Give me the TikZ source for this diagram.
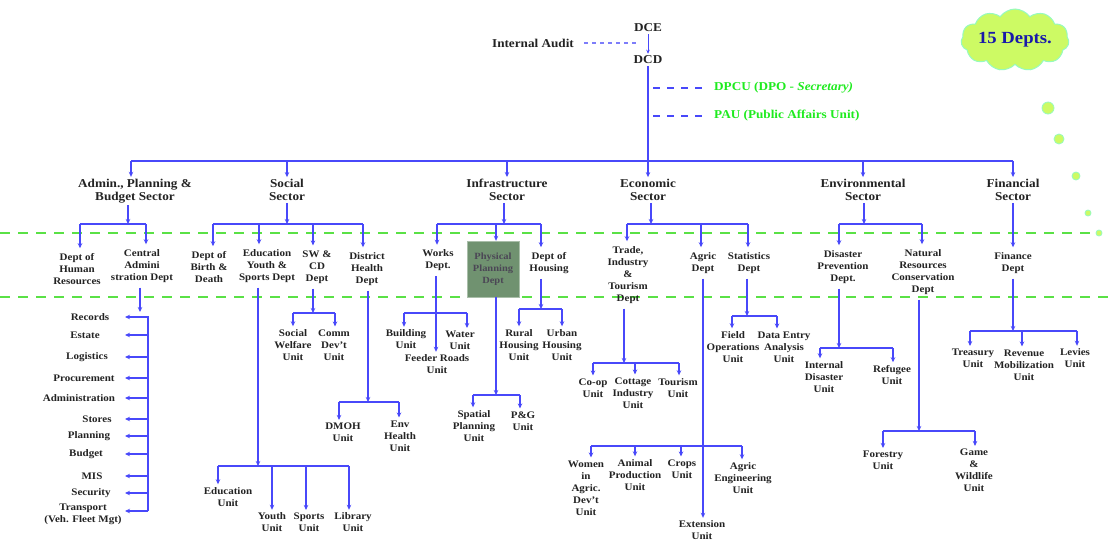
\documentclass[tikz,border=0pt]{standalone}
\usepackage{fontspec}
\setmainfont[FakeStretch=1.1]{Liberation Serif}
\usetikzlibrary{arrows.meta,shapes.symbols}
\definecolor{cline}{RGB}{72,72,250}
\definecolor{cdash}{RGB}{125,125,250}
\definecolor{cgreen}{RGB}{90,225,70}
\definecolor{ctext}{RGB}{35,35,35}
\definecolor{cgtext}{RGB}{30,235,30}
\definecolor{cppd}{RGB}{112,146,112}
\definecolor{cppt}{RGB}{75,70,85}
\definecolor{cdot}{RGB}{205,250,100}
\definecolor{cdotb}{RGB}{150,250,190}
\definecolor{cnavy}{RGB}{25,25,170}
\begin{document}
\begin{tikzpicture}[x=1pt,y=-1pt,
 lnk/.style={draw=cline,line width=1.3pt},
 arr/.style={lnk,-{Stealth[length=5pt,width=4.5pt]}},
 sec/.style={font=\fontsize{12}{13}\selectfont\bfseries,text=ctext,align=center,inner xsep=1pt,inner ysep=2pt},
 dept/.style={font=\fontsize{10}{12}\selectfont\bfseries,text=ctext,align=center,inner xsep=1pt,inner ysep=5pt},
 unit/.style={font=\fontsize{10}{12}\selectfont\bfseries,text=ctext,align=center,inner xsep=1pt,inner ysep=3pt},
 gdash/.style={draw=cgreen,line width=1.6pt,dash pattern=on 10pt off 8pt},
 bdash/.style={draw=cline,line width=1.3pt,dash pattern=on 7pt off 7pt},
 idash/.style={draw=cdash,line width=1.1pt,dash pattern=on 4pt off 4pt},
 dot/.style={circle,fill=cdot,draw=cdotb,line width=0.8pt,inner sep=0pt}]
\useasboundingbox (0,0) rectangle (1118,542);
\fill[white] (0,0) rectangle (1118,542);

% green dashed separators
\draw[gdash] (0,233) -- (1100,233);
\draw[gdash] (0,297) -- (1112,297);

% cloud and dots
\node[cloud,cloud puffs=11,cloud puff arc=110,aspect=1.7,fill=cdot,draw=cdotb,line width=1pt,
  minimum width=108pt,minimum height=62pt,inner sep=0pt] (cl) at (1015,40) {};
\node[font=\fontsize{17}{18}\selectfont\bfseries,text=cnavy,inner sep=0pt] (cltx) at (cl.center) {15 Depts.};
\node[dot,minimum size=12pt] (d1) at (1048,108) {};
\node[dot,minimum size=10pt] (d2) at (1059,139) {};
\node[dot,minimum size=8pt] (d3) at (1076,176) {};
\node[dot,minimum size=6pt] (d4) at (1088,213) {};
\node[dot,minimum size=6pt] (d5) at (1099,233) {};

% top
\node[sec] (dce) at (648,28) {DCE};
\node[sec] (dcd) at (648,60) {DCD};
\node[sec] (ia) at (533,43) {Internal Audit};
\node[sec,anchor=west,text=cgtext] (dpcu) at (713,88) {DPCU (DPO - \textit{Secretary)}};
\node[sec,anchor=west,text=cgtext] (pau) at (713,116) {PAU (Public Affairs Unit)};
\draw[lnk,line width=1pt,-{Stealth[length=4pt,width=3.5pt]}] (dce) -- (dcd);
\draw[idash,shorten <=9pt,shorten >=10pt] (ia.east) -- (ia.east -| dce.south);
\draw[bdash,shorten <=5pt,shorten >=10pt] (dpcu.west -| dcd.south) -- (dpcu.west);
\draw[bdash,shorten <=5pt,shorten >=10pt] (pau.west -| dcd.south) -- (pau.west);

% sectors
\node[sec] (sAdm) at (135,191) {Admin., Planning \&\\Budget Sector};
\node[sec] (sSoc) at (287,190) {Social\\Sector};
\node[sec] (sInf) at (507,190) {Infrastructure\\Sector};
\node[sec] (sEco) at (648,190) {Economic\\Sector};
\node[sec] (sEnv) at (863,190) {Environmental\\Sector};
\node[sec] (sFin) at (1013,190) {Financial\\Sector};
\coordinate (hub) at (648,161);
\draw[lnk] (131,0 |- hub) -- (sFin.north |- hub);
\draw[arr] (dcd.south) -- (sEco.north);
\draw[arr] (131,0 |- hub) -- (131,0 |- sAdm.north);
\draw[arr] (sSoc.north |- hub) -- (sSoc.north);
\draw[arr] (sInf.north |- hub) -- (sInf.north);
\draw[arr] (sEnv.north |- hub) -- (sEnv.north);
\draw[arr] (sFin.north |- hub) -- (sFin.north);

% departments
\node[dept] (dHR) at (77,269) {Dept of\\Human\\Resources};
\node[dept] (dCA) at (142,266) {Central\\Admini\\stration Dept};
\node[dept] (dBD) at (209,267) {Dept of\\Birth \&\\Death};
\node[dept] (dEYS) at (267,266) {Education\\Youth \&\\Sports Dept};
\node[dept] (dSW) at (317,267) {SW \&\\CD\\Dept};
\node[dept] (dDH) at (367,269) {District\\Health\\Dept};
\node[dept] (dWk) at (438,260.5) {Works\\Dept.};
\node[draw=cppd!60!white,fill=cppd,minimum width=52pt,minimum height=56pt,inner sep=1pt,
  font=\fontsize{9.5}{12}\selectfont\bfseries,text=cppt,align=center] (dPP) at (493,269) {Physical\\Planning\\Dept};
\node[dept] (dHo) at (549,263) {Dept of\\Housing};
\node[dept] (dTr) at (628,275) {Trade,\\Industry\\\&\\Tourism\\Dept};
\node[dept] (dAg) at (703,263) {Agric\\Dept};
\node[dept] (dSt) at (749,263) {Statistics\\Dept};
\node[dept] (dDP) at (843,267) {Disaster\\Prevention\\Dept.};
\node[dept] (dNR) at (923,272) {Natural\\Resources\\Conservation\\Dept};
\node[dept] (dFi) at (1013,263) {Finance\\Dept};

% sector -> departments
\draw[arr] (128,0 |- sAdm.south) -- (128,224);
\draw[lnk] (80,224) -- (146,224);
\draw[arr] (80,224) -- (80,0 |- dHR.north);
\draw[arr] (146,224) -- (146,0 |- dCA.north);

\draw[arr] (sSoc.south) -- (sSoc.south |- 0,224);
\draw[lnk] (213,224) -- (363,224);
\draw[arr] (213,224) -- (213,0 |- dBD.north);
\draw[arr] (259,224) -- (259,0 |- dEYS.north);
\draw[arr] (313,224) -- (313,0 |- dSW.north);
\draw[arr] (363,224) -- (363,0 |- dDH.north);

\draw[arr] (504,0 |- sInf.south) -- (504,224);
\draw[lnk] (437,224) -- (541,224);
\draw[arr] (437,224) -- (437,0 |- dWk.north);
\draw[arr] (496,224) -- (496,0 |- dPP.north);
\draw[arr] (541,224) -- (541,0 |- dHo.north);

\draw[arr] (651,0 |- sEco.south) -- (651,224);
\draw[lnk] (627,224) -- (748,224);
\draw[arr] (627,224) -- (627,0 |- dTr.north);
\draw[arr] (701,224) -- (701,0 |- dAg.north);
\draw[arr] (748,224) -- (748,0 |- dSt.north);

\draw[arr] (864,0 |- sEnv.south) -- (864,224);
\draw[lnk] (839,224) -- (922,224);
\draw[arr] (839,224) -- (839,0 |- dDP.north);
\draw[arr] (922,224) -- (922,0 |- dNR.north);

\draw[arr] (sFin.south) -- (dFi.north);

% admin list
\node[unit] (rec) at (90,317) {Records};
\node[unit] (est) at (85,335) {Estate};
\node[unit] (log) at (87,357) {Logistics};
\node[unit] (pro) at (84,378) {Procurement};
\node[unit] (adm) at (79,398) {Administration};
\node[unit] (sto) at (97,419) {Stores};
\node[unit] (pln) at (89,436) {Planning};
\node[unit] (bud) at (86,454) {Budget};
\node[unit] (mis) at (92,476) {MIS};
\node[unit] (sec) at (91,493) {Security};
\node[unit] (trn) at (83,514) {Transport\\(Veh. Fleet Mgt)};
\draw[arr] (140,0 |- dCA.south) -- (140,312);
\draw[lnk] (148,316) -- (148,511);
\foreach \n in {rec,est,log,pro,adm,sto,pln,bud,mis,sec}
  \draw[arr] (148,0 |- \n) -- (125,0 |- \n);
\draw[arr] (148,511) -- (125,511);

% social units
\node[unit] (eduU) at (228,497) {Education\\Unit};
\node[unit] (youU) at (272,522.5) {Youth\\Unit};
\node[unit] (spoU) at (309,522.5) {Sports\\Unit};
\node[unit] (libU) at (353,522.5) {Library\\Unit};
\node[unit] (swU) at (293,345) {Social\\Welfare\\Unit};
\node[unit] (cdU) at (334,345) {Comm\\Dev't\\Unit};
\node[unit] (dmU) at (343,432.5) {DMOH\\Unit};
\node[unit] (ehU) at (400,436) {Env\\Health\\Unit};

\draw[arr] (258,0 |- dEYS.south) -- (258,466);
\draw[lnk] (218,466) -- (349,466);
\draw[arr] (218,466) -- (218,0 |- eduU.north);
\draw[arr] (272,466) -- (272,0 |- youU.north);
\draw[arr] (306,466) -- (306,0 |- spoU.north);
\draw[arr] (349,466) -- (349,0 |- libU.north);

\draw[arr] (313,0 |- dSW.south) -- (313,313);
\draw[lnk] (293,313) -- (335,313);
\draw[arr] (293,313) -- (293,0 |- swU.north);
\draw[arr] (335,313) -- (335,0 |- cdU.north);

\draw[arr] (368,0 |- dDH.south) -- (368,402);
\draw[lnk] (339,402) -- (399,402);
\draw[arr] (339,402) -- (339,0 |- dmU.north);
\draw[arr] (399,402) -- (399,0 |- ehU.north);

% infrastructure units
\node[unit] (bldU) at (406,339.5) {Building\\Unit};
\node[unit] (watU) at (460,340.5) {Water\\Unit};
\node[unit] (frU) at (437,364.5) {Feeder Roads\\Unit};
\node[unit] (spU) at (474,426) {Spatial\\Planning\\Unit};
\node[unit] (pgU) at (523,421) {P\&G\\Unit};
\node[unit] (rhU) at (519,345) {Rural\\Housing\\Unit};
\node[unit] (uhU) at (562,345) {Urban\\Housing\\Unit};

\draw[arr] (436,0 |- dWk.south) -- (436,0 |- frU.north);
\draw[lnk] (404,313) -- (467,313);
\draw[arr] (404,313) -- (404,0 |- bldU.north);
\draw[arr] (467,313) -- (467,0 |- watU.north);

\draw[arr] (496,0 |- dPP.south) -- (496,395);
\draw[lnk] (473,395) -- (520,395);
\draw[arr] (473,395) -- (473,0 |- spU.north);
\draw[arr] (520,395) -- (520,0 |- pgU.north);

\draw[arr] (541,0 |- dHo.south) -- (541,309);
\draw[lnk] (519,309) -- (562,309);
\draw[arr] (519,309) -- (519,0 |- rhU.north);
\draw[arr] (562,309) -- (562,0 |- uhU.north);

% economic units
\node[unit] (coU) at (593,388) {Co-op\\Unit};
\node[unit] (ciU) at (633,393) {Cottage\\Industry\\Unit};
\node[unit] (toU) at (678,388) {Tourism\\Unit};
\node[unit] (waU) at (586,488) {Women\\in\\Agric.\\Dev't\\Unit};
\node[unit] (apU) at (635,475) {Animal\\Production\\Unit};
\node[unit] (crU) at (682,469) {Crops\\Unit};
\node[unit] (aeU) at (743,478) {Agric\\Engineering\\Unit};
\node[unit] (exU) at (702,530.5) {Extension\\Unit};
\node[unit] (foU) at (733,347) {Field\\Operations\\Unit};
\node[unit] (deU) at (784,347) {Data Entry\\Analysis\\Unit};

\draw[arr] (624,0 |- dTr.south) -- (624,363);
\draw[lnk] (593,363) -- (679,363);
\draw[arr] (593,363) -- (593,0 |- coU.north);
\draw[arr] (635,363) -- (635,0 |- ciU.north);
\draw[arr] (679,363) -- (679,0 |- toU.north);

\draw[arr] (703,0 |- dAg.south) -- (703,0 |- exU.north);
\draw[lnk] (591,446) -- (742,446);
\draw[arr] (591,446) -- (591,0 |- waU.north);
\draw[arr] (635,446) -- (635,0 |- apU.north);
\draw[arr] (681,446) -- (681,0 |- crU.north);
\draw[arr] (742,446) -- (742,0 |- aeU.north);

\draw[arr] (747,0 |- dSt.south) -- (747,316);
\draw[lnk] (732,316) -- (777,316);
\draw[arr] (732,316) -- (732,0 |- foU.north);
\draw[arr] (777,316) -- (777,0 |- deU.north);

% environmental units
\node[unit] (idU) at (824,377) {Internal\\Disaster\\Unit};
\node[unit] (rfU) at (892,375) {Refugee\\Unit};
\node[unit] (fyU) at (883,460.5) {Forestry\\Unit};
\node[unit] (gwU) at (974,470.5) {Game\\\&\\Wildlife\\Unit};

\draw[arr] (839,0 |- dDP.south) -- (839,348);
\draw[lnk] (820,348) -- (893,348);
\draw[arr] (820,348) -- (820,0 |- idU.north);
\draw[arr] (893,348) -- (893,0 |- rfU.north);

\draw[arr] (919,0 |- dNR.south) -- (919,431);
\draw[lnk] (883,431) -- (975,431);
\draw[arr] (883,431) -- (883,0 |- fyU.north);
\draw[arr] (975,431) -- (975,0 |- gwU.north);

% financial units
\node[unit] (tyU) at (973,358.5) {Treasury\\Unit};
\node[unit] (rmU) at (1024,365) {Revenue\\Mobilization\\Unit};
\node[unit] (lvU) at (1075,358.5) {Levies\\Unit};

\draw[arr] (1013,0 |- dFi.south) -- (1013,331);
\draw[lnk] (970,331) -- (1077,331);
\draw[arr] (970,331) -- (970,0 |- tyU.north);
\draw[arr] (1022,331) -- (1022,0 |- rmU.north);
\draw[arr] (1077,331) -- (1077,0 |- lvU.north);
\end{tikzpicture}
\end{document}
